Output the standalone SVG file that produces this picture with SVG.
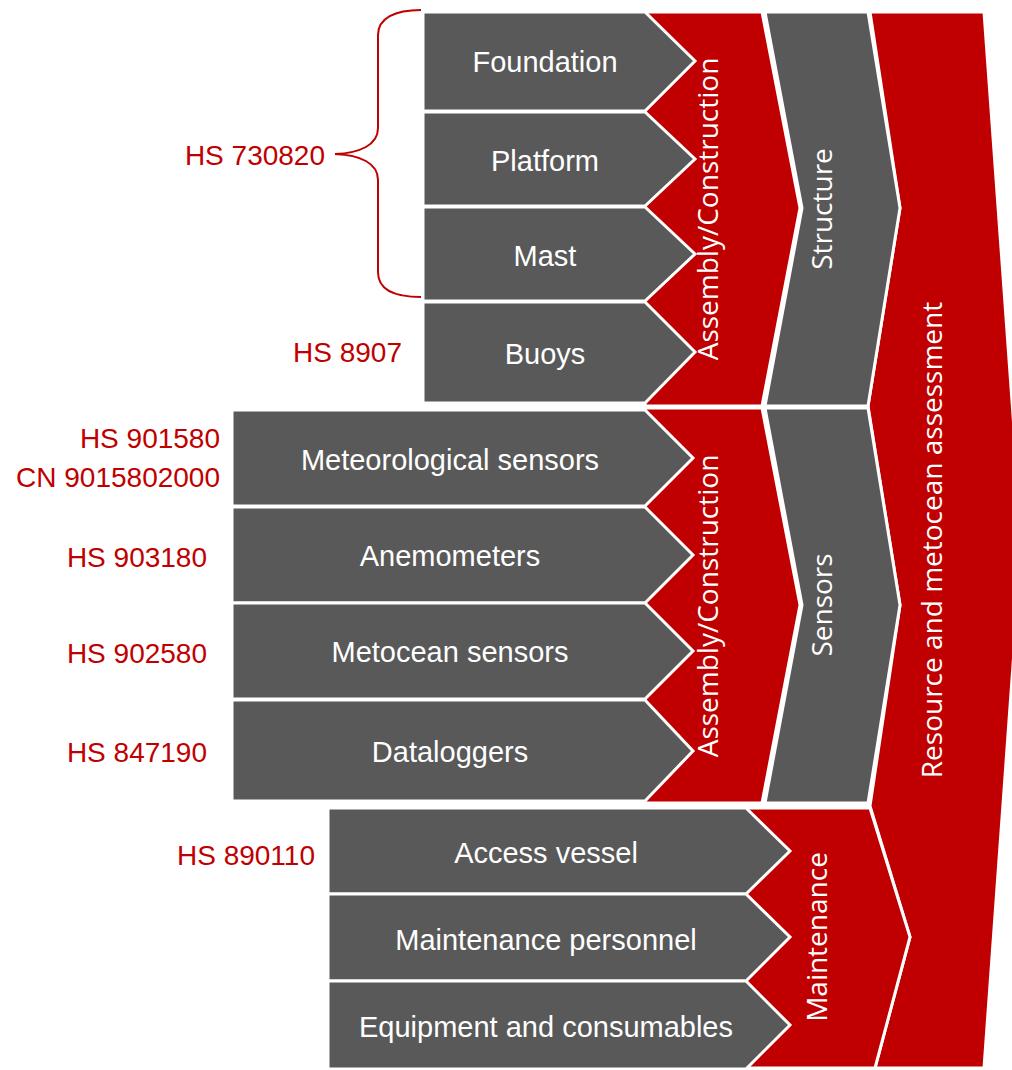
<svg xmlns="http://www.w3.org/2000/svg" width="1012" height="1070" viewBox="0 0 1012 1070">
<style>
.g{fill:#595959;stroke:#fff;stroke-width:3;stroke-linejoin:miter}
.r{fill:#C00000;stroke:#fff;stroke-width:3;stroke-linejoin:miter}
.t{font-family:"Liberation Sans",Arial,sans-serif;font-size:29px;fill:#fff;text-anchor:middle}
.v{font-family:"Open Sans","DejaVu Sans",sans-serif;font-size:28px;fill:#fff;text-anchor:middle}
.c{font-family:"Liberation Sans",Arial,sans-serif;font-size:28px;fill:#C00000;text-anchor:end}
</style>
<rect width="1012" height="1070" fill="#fff"/>
<g id="resource">
<polygon class="r" points="870,12 984,12 1022,540 984,1068 875,1068 910,937 870,806 900,605 868,406 900,208"/>
<text class="v" transform="translate(942,540) rotate(-90)">Resource and metocean assessment</text>
</g>
<g id="structure">
<polygon class="g" points="765,12 868,12 900,208 868,406 765,406 802,208"/>
<text class="v" transform="translate(832,209) rotate(-90)">Structure</text>
</g>
<g id="sensors">
<polygon class="g" points="765,408 868,408 900,605 868,803 765,803 802,605"/>
<text class="v" transform="translate(832,605) rotate(-90)">Sensors</text>
</g>
<g id="assembly1">
<polygon class="r" points="645,12 762,12 800,208 762,406 645,406"/>
<text class="v" transform="translate(718,209) rotate(-90)">Assembly/Construction</text>
</g>
<g id="assembly2">
<polygon class="r" points="645,408 762,408 800,605 762,803 645,803"/>
<text class="v" transform="translate(718,606) rotate(-90)">Assembly/Construction</text>
</g>
<g id="maintenance">
<polygon class="r" points="746,808 870,808 910,937 875,1068 746,1068"/>
<text class="v" transform="translate(827,937) rotate(-90)">Maintenance</text>
</g>
<g id="foundation"><polygon class="g" points="423,12 645,12 695,61 645,111 423,111"/><text class="t" x="545" y="72">Foundation</text></g>
<g id="platform"><polygon class="g" points="423,112 645,112 695,159 645,206 423,206"/><text class="t" x="545" y="171">Platform</text></g>
<g id="mast"><polygon class="g" points="423,207 645,207 695,254 645,301 423,301"/><text class="t" x="545" y="266">Mast</text></g>
<g id="buoys"><polygon class="g" points="423,302 645,302 695,352 645,403 423,403"/><text class="t" x="545" y="364">Buoys</text></g>
<g id="met"><polygon class="g" points="232,410 645,410 693,458 645,506 232,506"/><text class="t" x="450" y="470">Meteorological sensors</text></g>
<g id="anemometers"><polygon class="g" points="232,507 645,507 693,555 645,603 232,603"/><text class="t" x="450" y="566">Anemometers</text></g>
<g id="metocean"><polygon class="g" points="232,603 645,603 693,651 645,699 232,699"/><text class="t" x="450" y="662">Metocean sensors</text></g>
<g id="dataloggers"><polygon class="g" points="232,700 645,700 693,751 645,801 232,801"/><text class="t" x="450" y="762">Dataloggers</text></g>
<g id="vessel"><polygon class="g" points="328,808 746,808 790,851 746,894 328,894"/><text class="t" x="546" y="863">Access vessel</text></g>
<g id="personnel"><polygon class="g" points="328,894 746,894 790,937 746,981 328,981"/><text class="t" x="546" y="950">Maintenance personnel</text></g>
<g id="equipment"><polygon class="g" points="328,981 746,981 790,1025 746,1069 328,1069"/><text class="t" x="546" y="1037">Equipment and consumables</text></g>
<g id="connectors">
<path d="M421,10 C395,10 378,18 378,35 L378,128 C378,145 360,153 335,154 C360,155 378,163 378,180 L378,272 C378,290 395,297 421,297" fill="none" stroke="#C00000" stroke-width="2"/>
</g>
<g id="codes">
<text class="c" x="325" y="165">HS 730820</text>
<text class="c" x="402" y="362">HS 8907</text>
<text class="c" x="220" y="448">HS 901580</text>
<text class="c" x="220" y="487">CN 9015802000</text>
<text class="c" x="207" y="567">HS 903180</text>
<text class="c" x="207" y="663">HS 902580</text>
<text class="c" x="207" y="762">HS 847190</text>
<text class="c" x="315" y="865">HS 890110</text>
</g>
</svg>
